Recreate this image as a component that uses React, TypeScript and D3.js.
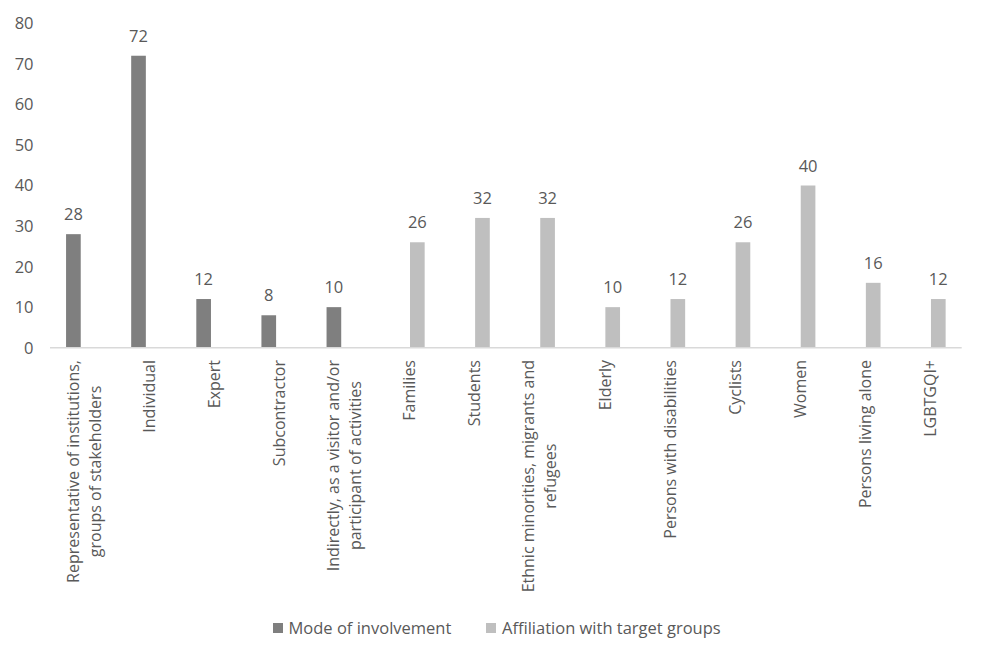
import React, { useEffect, useRef } from "react";
import * as d3 from "d3";

const categoryLines: string[][] = [
  ["Representative of institutions,", "groups of stakeholders"],
  ["Individual"],
  ["Expert"],
  ["Subcontractor"],
  ["Indirectly, as a visitor and/or", "participant of activities"],
  ["Families"],
  ["Students"],
  ["Ethnic minorities, migrants and", "refugees"],
  ["Elderly"],
  ["Persons with disabilities"],
  ["Cyclists"],
  ["Women"],
  ["Persons living alone"],
  ["LGBTGQI+"],
];
const categories = categoryLines.map((l) => l.join(" "));
const seriesNames = ["Mode of involvement", "Affiliation with target groups"];
const modeValues: (number | null)[] = [28, 72, 12, 8, 10, null, null, null, null, null, null, null, null, null];
const affiliationValues: (number | null)[] = [null, null, null, null, null, 26, 32, 32, 10, 12, 26, 40, 16, 12];
const yTicks = [0, 10, 20, 30, 40, 50, 60, 70, 80];
const colors = ["#7f7f7f", "#bfbfbf"];

const W = 985;
const H = 659;
const FONT = "'Open Sans', 'Liberation Sans', sans-serif";
const TEXT = "#595959";

export default function App() {
  const ref = useRef<SVGSVGElement | null>(null);

  useEffect(() => {
    const svg = d3.select(ref.current);
    svg.selectAll("*").remove();

    const x = d3.scaleBand<string>().domain(categories).range([50, 961.7]).paddingInner(0).paddingOuter(0);
    const x1 = d3.scaleBand<string>().domain(seriesNames).range([-16.5, 16.5]).paddingInner(0.2).paddingOuter(0);
    const y = d3.scaleLinear().domain([0, 80]).range([347.7, 23.3]);

    // y tick labels
    svg
      .append("g")
      .selectAll("text")
      .data(yTicks)
      .join("text")
      .attr("x", 33.5)
      .attr("y", (d) => y(d))
      .attr("dy", "0.36em")
      .attr("text-anchor", "end")
      .attr("font-family", FONT)
      .attr("font-size", 16.5)
      .attr("fill", TEXT)
      .text((d) => d);

    const seriesData = [modeValues, affiliationValues];
    seriesData.forEach((vals, si) => {
      const pts = vals
        .map((v, i) => ({ v, c: categories[i] }))
        .filter((p) => p.v !== null) as { v: number; c: string }[];
      const g = svg.append("g");
      g.selectAll("rect")
        .data(pts)
        .join("rect")
        .attr("x", (p) => (x(p.c) as number) + x.bandwidth() / 2 + (x1(seriesNames[si]) as number))
        .attr("width", x1.bandwidth())
        .attr("y", (p) => y(p.v))
        .attr("height", (p) => y(0) - y(p.v))
        .attr("fill", colors[si]);
      g.selectAll("text")
        .data(pts)
        .join("text")
        .attr("x", (p) => (x(p.c) as number) + x.bandwidth() / 2 + (x1(seriesNames[si]) as number) + x1.bandwidth() / 2)
        .attr("y", (p) => y(p.v) - 14)
        .attr("text-anchor", "middle")
        .attr("font-family", FONT)
        .attr("font-size", 16.5)
        .attr("fill", TEXT)
        .text((p) => p.v);
    });

    // x axis line
    svg
      .append("line")
      .attr("x1", 50)
      .attr("x2", 961.7)
      .attr("y1", y(0))
      .attr("y2", y(0))
      .attr("stroke", "#d9d9d9")
      .attr("stroke-width", 1.5);

    // category labels
    const labelTop = 360;
    const lineH = 22;
    categoryLines.forEach((lines, i) => {
      const cx = (x(categories[i]) as number) + x.bandwidth() / 2;
      const g = svg.append("g").attr("transform", `translate(${cx},${labelTop}) rotate(-90)`);
      const n = lines.length;
      const texts = lines.map((ln, li) =>
        g
          .append("text")
          .attr("y", 7 + (li - (n - 1) / 2) * lineH)
          .attr("font-family", FONT)
          .attr("font-size", 16)
          .attr("fill", TEXT)
          .attr("text-anchor", "middle")
          .text(ln)
      );
      const widths = texts.map((t) => (t.node() as SVGTextElement).getComputedTextLength());
      const maxW = Math.max(...widths);
      texts.forEach((t) => t.attr("x", -maxW / 2));
    });

    // legend
    const legendItems = [
      { name: seriesNames[0], sx: 273, tx: 288.5 },
      { name: seriesNames[1], sx: 486, tx: 502 },
    ];
    const lg = svg.append("g");
    legendItems.forEach((it, i) => {
      lg.append("rect").attr("x", it.sx).attr("y", 623).attr("width", 10).attr("height", 10).attr("fill", colors[i]);
      lg.append("text")
        .attr("x", it.tx)
        .attr("y", 634)
        .attr("font-family", FONT)
        .attr("font-size", 16.5)
        .attr("fill", TEXT)
        .text(it.name);
    });
  }, []);

  return (
    <svg
      ref={ref}
      width={W}
      height={H}
      viewBox={`0 0 ${W} ${H}`}
      style={{ position: "absolute", left: 0, top: 0, background: "#ffffff" }}
    />
  );
}
